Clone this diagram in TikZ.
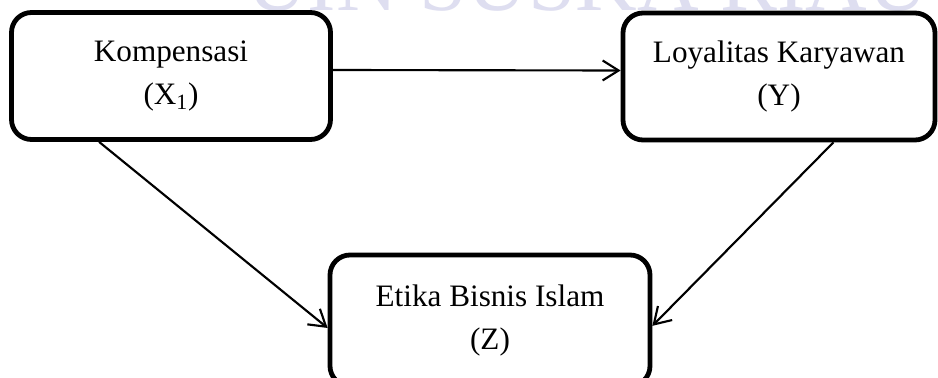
\documentclass[tikz,border=0pt]{standalone}
\usepackage{fontspec}
\setmainfont{Liberation Serif}
\usetikzlibrary{arrows.meta}
\definecolor{wmark}{RGB}{222,222,240}
\tikzset{
  varbox/.style={draw, line width=3.6pt, rounded corners=15pt, fill=white,
    align=center, font=\fontsize{23.4}{32}\selectfont,
    inner sep=0pt},
  link/.style={line width=1.6pt, -{Straight Barb[length=12pt,width=15pt,line width=1.6pt]}}
}
\begin{document}
\begin{tikzpicture}[x=0.75pt, y=-0.75pt]
  \useasboundingbox (0,0) rectangle (938,378);
  \fill[white] (0,0) rectangle (938,378);
  % faint watermark, only its lower edge falls inside the page
  \node[anchor=base west, text=wmark, inner sep=0pt,
        font=\fontsize{64}{64}\selectfont] (wm) at (246,11) {UIN SUSKA RIAU};
  % variables
  \node[varbox, minimum width=319*0.75pt, minimum height=127*0.75pt]
    (b1) at (171,76) {Kompensasi\\(X\textsubscript{1})};
  \node[varbox, minimum width=312*0.75pt, minimum height=127*0.75pt]
    (b2) at (779,76.5) {Loyalitas Karyawan\\(Y)};
  \node[varbox, minimum width=320*0.75pt, minimum height=131*0.75pt]
    (b3) at (490,320.5) {Etika Bisnis Islam\\(Z)};
  % relations
  \draw[link] ([yshift=4.5pt]b1.east) -- ([yshift=4.5pt]b2.west);
  \draw[link] ([xshift=67.5pt]b1.south west) -- ([yshift=-5.6pt]b3.west);
  \draw[link] ([xshift=-78pt]b2.south east) -- ([yshift=-4pt]b3.east);
\end{tikzpicture}
\end{document}
